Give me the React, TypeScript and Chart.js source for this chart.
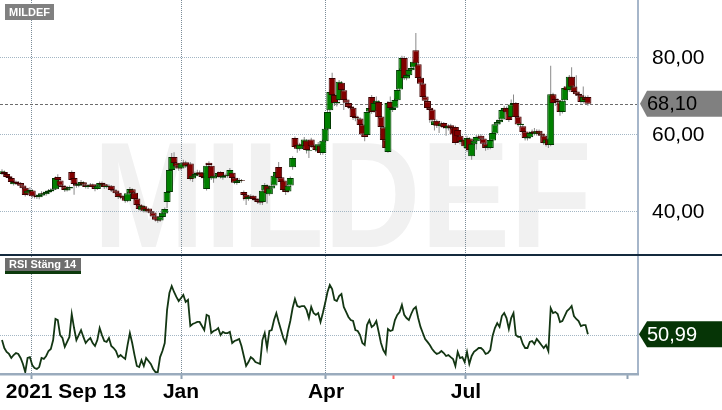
import { useEffect, useRef } from 'react';
import { Chart, registerables } from 'chart.js';

Chart.register(...registerables);

const FONT = '"Liberation Sans", Arial, sans-serif';

const SYMBOL = 'MILDEF';
const RSI_TITLE = 'RSI Stäng 14';

const OPEN = [
  49.9, 50.4, 49.9, 49.3, 48.8, 47.2, 47.9, 47.6, 47.5, 46.9,
  46.3, 44.8, 45.3, 45.6, 44.2, 44.2, 43.8, 44.3, 44.9, 44.6,
  45.1, 45.4, 45.8, 45.9, 49.1, 48.2, 46.9, 46.6, 45.6, 46.1,
  50.4, 48.8, 47.4, 46.8, 47.2, 47.7, 47.1, 46.5, 46.8, 47.2,
  46.6, 46.0, 46.7, 47.6, 47.2, 46.4, 46.9, 46.8, 45.8, 45.6,
  45.0, 43.8, 44.2, 43.7, 42.8, 44.9, 45.9, 45.0, 43.5, 41.9,
  40.6, 41.5, 40.2, 40.9, 40.2, 39.9, 38.9, 38.1, 37.8, 38.7,
  39.6, 42.6, 45.2, 50.9, 54.3, 52.8, 52.0, 51.3, 52.5, 52.9,
  51.8, 52.6, 48.7, 49.3, 49.9, 50.3, 50.2, 49.2, 46.0, 52.8,
  52.0, 48.7, 49.5, 49.3, 50.4, 48.9, 49.4, 49.7, 49.3, 50.2,
  48.9, 47.5, 48.0, 48.3, 45.2, 44.5, 43.3, 43.8, 44.2, 43.5,
  43.2, 42.7, 42.6, 45.6, 46.9, 44.6, 46.1, 46.9, 49.3, 51.7,
  49.0, 48.2, 45.8, 45.3, 46.9, 51.6, 59.2, 57.4, 56.3, 57.6,
  57.1, 58.6, 55.9, 58.8, 57.3, 57.2, 55.9, 57.3, 55.3, 58.4,
  61.5, 66.4, 74.8, 70.4, 68.2, 69.1, 73.6, 71.6, 69.2, 68.3,
  67.4, 67.1, 64.8, 64.3, 64.3, 62.7, 60.2, 60.0, 66.1, 69.9,
  66.2, 68.2, 68.6, 64.8, 62.0, 58.8, 55.6, 68.6, 66.5, 67.1,
  69.0, 71.8, 76.8, 80.0, 74.7, 75.5, 76.8, 77.5, 82.0, 78.4,
  74.9, 73.4, 70.0, 68.8, 67.1, 66.6, 62.6, 63.7, 62.6, 62.3,
  63.1, 62.2, 61.7, 62.5, 61.9, 62.1, 61.3, 59.8, 58.1, 58.8,
  56.6, 59.1, 54.5, 57.6, 58.4, 59.6, 59.8, 59.1, 57.8, 56.7,
  56.6, 58.6, 60.4, 62.7, 63.3, 64.0, 66.4, 67.1, 67.0, 64.7,
  67.8, 68.3, 64.8, 62.6, 62.3, 60.9, 59.1, 59.4, 60.4, 61.0,
  60.2, 61.1, 60.4, 59.9, 57.8, 58.9, 57.4, 70.6, 69.4, 69.0,
  68.5, 66.0, 69.0, 72.6, 71.6, 75.1, 72.6, 71.3, 70.7, 70.3,
  68.6, 69.8, 69.9,
];

const HIGH = [
  51.1, 50.8, 50.2, 49.6, 49.0, 48.3, 48.2, 48.0, 47.8, 47.2,
  46.5, 46.0, 46.4, 45.9, 44.8, 44.6, 44.8, 45.4, 45.3, 45.6,
  46.0, 46.2, 46.6, 49.2, 49.8, 48.5, 47.3, 46.9, 46.6, 46.9,
  50.8, 49.0, 47.8, 47.7, 48.3, 48.0, 47.4, 47.2, 47.5, 47.4,
  46.9, 47.2, 47.9, 47.9, 47.5, 47.3, 47.2, 47.0, 46.1, 45.9,
  45.2, 44.6, 44.5, 44.0, 45.3, 46.5, 46.2, 45.2, 43.7, 42.1,
  42.0, 41.8, 41.2, 41.1, 40.5, 40.1, 39.1, 38.4, 39.1, 40.1,
  41.2, 45.6, 51.3, 55.3, 55.5, 53.6, 52.6, 53.0, 53.6, 53.3,
  52.7, 53.0, 50.3, 50.5, 51.0, 50.8, 50.4, 49.6, 52.6, 53.2,
  52.3, 50.0, 50.0, 50.5, 50.6, 49.9, 50.0, 50.1, 51.4, 50.5,
  49.3, 48.5, 48.8, 48.6, 45.6, 44.8, 44.3, 44.6, 44.4, 43.9,
  43.5, 43.0, 46.0, 47.5, 47.2, 46.6, 47.9, 49.8, 51.5, 53.0,
  49.4, 48.5, 46.0, 47.2, 49.2, 54.5, 59.6, 58.0, 58.0, 58.5,
  59.5, 58.9, 56.8, 59.3, 57.8, 57.6, 58.2, 57.6, 59.0, 62.2,
  66.5, 71.8, 76.2, 70.8, 69.3, 74.3, 74.0, 72.0, 69.6, 68.7,
  67.9, 67.4, 65.6, 65.0, 64.6, 63.0, 60.8, 66.5, 67.6, 70.4,
  69.9, 70.0, 69.0, 65.2, 62.3, 59.1, 68.8, 70.0, 67.6, 69.6,
  72.2, 77.4, 80.6, 80.5, 76.2, 77.4, 78.2, 79.6, 86.5, 79.0,
  75.3, 73.8, 70.4, 69.2, 67.5, 67.0, 64.0, 64.0, 63.0, 63.5,
  63.4, 62.6, 62.8, 62.9, 62.2, 62.4, 61.6, 60.1, 59.3, 59.1,
  59.8, 59.5, 58.1, 59.0, 60.0, 60.2, 60.2, 59.4, 58.1, 57.8,
  60.5, 61.0, 63.4, 64.0, 64.7, 67.0, 67.6, 67.4, 67.3, 69.2,
  70.5, 68.6, 65.1, 63.4, 62.6, 61.2, 60.0, 61.0, 61.4, 61.8,
  61.5, 61.4, 60.8, 60.2, 59.3, 59.2, 78.0, 71.0, 69.9, 69.5,
  68.8, 69.4, 72.7, 73.1, 75.6, 77.6, 73.0, 75.5, 71.1, 70.6,
  72.6, 70.2, 70.3,
];

const LOW = [
  49.6, 49.5, 48.8, 48.2, 47.3, 46.9, 47.0, 46.8, 46.4, 45.8,
  44.0, 44.3, 44.9, 43.6, 43.5, 43.4, 43.3, 44.0, 44.2, 44.2,
  44.7, 45.0, 45.3, 45.7, 48.0, 46.4, 46.0, 45.2, 45.3, 45.8,
  48.0, 44.5, 46.3, 46.4, 46.9, 46.7, 46.1, 46.0, 46.5, 46.0,
  45.4, 45.7, 46.4, 46.6, 46.0, 46.1, 46.2, 45.2, 45.0, 44.5,
  43.4, 43.3, 43.1, 42.4, 42.5, 44.6, 44.5, 43.0, 41.4, 40.4,
  40.2, 39.9, 39.9, 39.7, 39.3, 38.4, 37.5, 37.2, 37.4, 38.4,
  39.3, 41.0, 45.0, 50.6, 52.3, 51.3, 50.7, 50.9, 52.1, 51.4,
  51.0, 48.2, 47.8, 48.9, 49.5, 49.2, 48.7, 47.5, 45.6, 51.5,
  48.3, 47.6, 48.8, 48.9, 48.7, 48.4, 48.9, 48.9, 49.0, 48.4,
  47.2, 47.1, 47.7, 47.6, 43.0, 41.8, 42.9, 43.4, 42.9, 42.6,
  42.1, 41.9, 41.8, 45.2, 42.2, 44.2, 45.8, 46.6, 48.9, 48.4,
  47.3, 45.2, 44.4, 45.0, 46.5, 51.0, 56.4, 55.4, 55.9, 56.8,
  56.8, 55.2, 54.0, 56.6, 56.4, 55.6, 55.5, 54.8, 54.9, 58.0,
  61.2, 65.9, 70.0, 67.5, 67.4, 68.7, 71.2, 66.5, 67.9, 66.8,
  66.4, 63.9, 63.6, 63.8, 62.1, 59.6, 58.4, 59.8, 65.7, 65.5,
  65.8, 67.7, 64.2, 61.6, 58.2, 55.8, 55.4, 66.5, 66.0, 66.8,
  68.7, 71.5, 76.5, 74.3, 74.2, 75.0, 76.4, 77.0, 77.8, 74.2,
  72.8, 69.3, 68.4, 66.5, 63.2, 63.3, 61.2, 61.8, 60.5, 61.9,
  61.6, 59.8, 61.2, 61.3, 59.6, 57.4, 59.2, 57.6, 57.7, 56.4,
  55.6, 55.0, 53.6, 57.2, 56.2, 59.1, 58.5, 57.2, 55.9, 56.2,
  56.3, 58.2, 60.1, 62.3, 62.8, 63.7, 65.9, 65.4, 63.4, 64.3,
  67.3, 64.2, 62.2, 62.0, 60.3, 58.6, 58.6, 59.0, 60.0, 59.9,
  59.8, 59.8, 59.3, 57.4, 57.0, 56.6, 57.1, 67.8, 67.5, 68.1,
  65.0, 65.6, 68.6, 71.2, 71.2, 72.0, 70.7, 70.1, 69.7, 68.1,
  68.2, 68.6, 67.6,
];

const CLOSE = [
  50.6, 49.9, 49.1, 48.8, 47.8, 47.8, 47.5, 47.3, 46.8, 46.2,
  44.4, 45.5, 45.7, 44.1, 44.1, 43.9, 44.4, 44.9, 44.7, 45.2,
  45.5, 45.7, 46.0, 48.8, 48.3, 46.8, 46.5, 45.7, 46.2, 46.5,
  48.3, 47.3, 46.8, 47.3, 47.8, 47.1, 46.5, 46.8, 47.1, 46.5,
  46.0, 46.8, 47.5, 47.1, 46.5, 46.8, 46.8, 45.7, 45.5, 44.9,
  43.9, 44.1, 43.6, 42.9, 44.9, 46.0, 44.9, 43.4, 41.8, 40.8,
  41.6, 40.3, 40.8, 40.1, 39.8, 38.8, 38.0, 37.7, 38.8, 39.8,
  40.8, 45.2, 50.9, 54.3, 52.7, 51.8, 51.3, 52.6, 52.8, 51.8,
  52.3, 48.6, 49.4, 49.9, 50.2, 49.7, 49.1, 48.8, 52.0, 52.2,
  48.8, 49.4, 49.4, 50.1, 49.1, 49.4, 49.6, 49.4, 50.9, 48.8,
  47.6, 48.1, 48.3, 48.1, 44.4, 43.4, 43.9, 44.1, 43.4, 43.1,
  42.6, 42.4, 45.5, 47.0, 44.9, 46.2, 46.8, 49.4, 50.4, 48.8,
  47.8, 45.7, 45.2, 46.8, 48.8, 54.0, 56.9, 56.4, 57.5, 57.2,
  58.8, 56.1, 56.1, 57.1, 56.9, 56.1, 57.6, 55.3, 58.5, 61.6,
  66.0, 71.2, 70.4, 68.3, 68.6, 73.8, 71.7, 69.1, 68.4, 67.3,
  67.0, 64.7, 64.4, 64.4, 62.6, 60.1, 59.5, 66.0, 67.0, 66.0,
  68.3, 68.9, 64.7, 62.1, 58.7, 56.6, 68.3, 67.0, 67.0, 69.1,
  71.7, 76.9, 80.0, 74.8, 75.6, 76.9, 77.4, 79.0, 78.6, 74.8,
  73.3, 69.9, 68.9, 67.0, 66.5, 63.8, 63.6, 62.4, 62.4, 63.0,
  62.1, 61.8, 62.4, 61.8, 60.1, 57.9, 59.7, 58.2, 58.7, 57.1,
  59.2, 56.1, 57.7, 58.5, 59.5, 59.7, 59.0, 57.7, 56.6, 57.2,
  58.7, 60.5, 62.8, 63.4, 63.9, 66.5, 67.0, 65.9, 63.9, 67.9,
  68.3, 64.7, 62.7, 62.9, 60.8, 59.2, 59.5, 60.5, 60.8, 60.3,
  61.0, 60.3, 59.8, 57.9, 58.8, 57.4, 70.6, 68.3, 69.1, 68.6,
  66.0, 68.9, 72.2, 71.7, 75.1, 72.5, 71.2, 70.6, 70.2, 68.6,
  69.9, 69.1, 68.1,
];

const RSI = [
  47.8, 43.5, 41.4, 40.3, 38.1, 39.7, 40.8, 40.3, 38.1, 34.9,
  30.5, 38.1, 38.6, 34.3, 32.7, 32.2, 33.2, 38.1, 37.6, 39.2,
  41.9, 43.0, 47.8, 59.2, 58.6, 50.5, 48.9, 44.1, 46.8, 49.5,
  61.9, 54.3, 47.8, 50.5, 53.2, 49.5, 46.2, 47.8, 48.9, 46.2,
  44.6, 47.8, 54.3, 50.5, 47.3, 46.8, 48.9, 44.6, 43.5, 41.9,
  38.6, 39.7, 38.6, 37.6, 45.1, 51.6, 46.2, 39.7, 33.8, 33.2,
  37.0, 33.8, 38.1, 36.5, 34.9, 32.2, 30.5, 30.5, 38.6, 41.9,
  46.2, 64.1, 73.2, 77.0, 73.8, 71.1, 68.9, 70.5, 72.2, 68.4,
  69.5, 55.4, 56.5, 57.0, 57.6, 57.6, 55.4, 53.2, 61.4, 60.8,
  51.6, 52.7, 53.2, 54.3, 50.5, 52.2, 51.6, 51.6, 52.2, 46.2,
  47.3, 47.8, 48.4, 44.6, 39.2, 33.8, 35.9, 38.6, 37.6, 35.9,
  35.4, 34.9, 47.8, 51.6, 43.5, 52.7, 53.2, 58.6, 62.4, 57.6,
  53.2, 48.9, 46.2, 52.7, 58.1, 65.1, 70.0, 66.2, 65.7, 66.2,
  66.2, 64.1, 59.7, 65.7, 62.4, 61.4, 62.4, 57.6, 62.4, 67.8,
  73.8, 77.6, 75.4, 69.5, 68.9, 71.6, 72.7, 65.7, 63.0, 60.3,
  58.6, 58.1, 53.2, 52.7, 50.5, 46.2, 45.1, 55.9, 58.6, 54.9,
  55.9, 58.1, 52.2, 46.2, 42.4, 40.3, 53.8, 52.7, 53.2, 58.6,
  61.4, 63.0, 66.8, 61.4, 59.7, 58.6, 61.9, 64.6, 65.7, 59.7,
  54.9, 51.6, 48.4, 46.8, 45.1, 43.0, 41.4, 40.3, 40.8, 41.9,
  40.8, 39.2, 39.7, 38.6, 37.6, 33.8, 41.4, 38.1, 38.6, 35.9,
  41.4, 34.9, 39.2, 41.4, 42.4, 43.5, 43.5, 42.4, 40.3, 40.8,
  42.4, 50.0, 54.3, 57.0, 54.9, 60.8, 62.4, 59.7, 53.8, 59.7,
  62.4, 50.5, 49.5, 49.5, 45.7, 43.5, 43.5, 46.8, 47.3, 45.7,
  48.4, 46.8, 45.1, 43.5, 45.1, 41.9, 65.1, 62.4, 63.0, 61.9,
  57.6, 58.1, 60.8, 63.5, 64.6, 66.2, 60.8, 59.2, 58.1, 55.4,
  55.9, 55.9, 50.99,
];

// x-axis (index positions of gridlines / ticks / labels)
const X_MIN = -0.86;
const X_MAX = 273.55;
const GRID_TICKS = [12.9, 77.0, 139.35, 199.57];
const AXIS_TICKS = [12.9, 27.5, 77.0, 139.35, 168.2, 199.57, 269.2];
const AXIS_LABELS = ['', '2021 Sep 13', 'Jan', 'Apr', '', 'Jul', ''];
const AXIS_GRID = [true, false, true, true, false, true, false];
const AXIS_TICK_COLORS = ['#8fa1b3', 'rgba(0,0,0,0)', '#8fa1b3', '#8fa1b3', '#ff5a5a', '#8fa1b3', '#8fa1b3'];

const PRICE_TICKS = [40, 60, 80];
const PRICE_MIN = 28.57;
const PRICE_MAX = 95.065;
const RSI_TICKS = [50];
const RSI_MIN = 30;
const RSI_MAX = 93.24;

const fmt = (v: number) => v.toFixed(2).replace('.', ',');

const GRID_V = '#7b8c98';
const GRID_H = '#a3b6c4';
const FRAME = '#a6b6ca';

export default function App() {
  const mainRef = useRef<HTMLCanvasElement>(null);
  const rsiRef = useRef<HTMLCanvasElement>(null);

  useEffect(() => {
    document.body.style.margin = '0';
    const last = CLOSE.length - 1;

    const mainPlugin = {
      id: 'mainDecor',
      beforeDraw(chart: any) {
        const { ctx } = chart;
        ctx.save();
        ctx.fillStyle = '#ffffff';
        ctx.fillRect(0, 0, chart.width, chart.height);
        ctx.font = `bold 150px ${FONT}`;
        const w = ctx.measureText(SYMBOL).width;
        ctx.translate(93, 247);
        ctx.scale(499 / w, 1);
        ctx.fillStyle = '#f1f1f1';
        ctx.textBaseline = 'alphabetic';
        ctx.fillText(SYMBOL, 0, 0);
        ctx.restore();
      },
      beforeDatasetsDraw(chart: any) {
        const { ctx, chartArea } = chart;
        const y = Math.round(chart.scales.y.getPixelForValue(CLOSE[last])) + 0.5;
        ctx.save();
        ctx.strokeStyle = '#6c6c6c';
        ctx.lineWidth = 1;
        ctx.setLineDash([3, 2]);
        ctx.beginPath();
        ctx.moveTo(chartArea.left, y);
        ctx.lineTo(chartArea.right, y);
        ctx.stroke();
        ctx.restore();
      },
      afterDraw(chart: any) {
        const { ctx, chartArea } = chart;
        const r = chartArea.right;
        ctx.save();
        // frame
        ctx.fillStyle = FRAME;
        ctx.fillRect(r - 1, 0, 2, chart.height);
        ctx.fillStyle = '#142a3e';
        ctx.fillRect(0, chart.height - 2, chart.width, 2);
        // price tag
        const y = chart.scales.y.getPixelForValue(CLOSE[last]);
        ctx.fillStyle = '#808080';
        ctx.beginPath();
        ctx.moveTo(r + 2, y);
        ctx.lineTo(r + 9, y - 13);
        ctx.lineTo(chart.width, y - 13);
        ctx.lineTo(chart.width, y + 13);
        ctx.lineTo(r + 9, y + 13);
        ctx.closePath();
        ctx.fill();
        ctx.fillStyle = '#000';
        ctx.font = `20px ${FONT}`;
        ctx.textBaseline = 'middle';
        ctx.textAlign = 'left';
        ctx.fillText(fmt(CLOSE[last]), r + 9, y + 1);
        // symbol label
        ctx.fillStyle = '#808080';
        ctx.fillRect(5, 4, 49, 16);
        ctx.fillStyle = '#fff';
        ctx.font = `bold 11px ${FONT}`;
        ctx.fillText(SYMBOL, 9, 12.5);
        ctx.restore();
      },
    };

    const rsiPlugin = {
      id: 'rsiDecor',
      beforeDraw(chart: any) {
        const { ctx } = chart;
        ctx.save();
        ctx.fillStyle = '#ffffff';
        ctx.fillRect(0, 0, chart.width, chart.height);
        ctx.restore();
      },
      afterDraw(chart: any) {
        const { ctx, chartArea } = chart;
        const r = chartArea.right;
        const b = chartArea.bottom;
        ctx.save();
        ctx.fillStyle = FRAME;
        ctx.fillRect(r - 1, 0, 2, b + 2);
        ctx.fillStyle = '#9aabbd';
        ctx.fillRect(0, b, r + 1, 2.5);
        // RSI tag
        const lastRsi = RSI[RSI.length - 1];
        const y = chart.scales.y.getPixelForValue(lastRsi);
        ctx.fillStyle = '#063506';
        ctx.beginPath();
        ctx.moveTo(r + 1, y);
        ctx.lineTo(r + 9, y - 13);
        ctx.lineTo(chart.width, y - 13);
        ctx.lineTo(chart.width, y + 13);
        ctx.lineTo(r + 9, y + 13);
        ctx.closePath();
        ctx.fill();
        ctx.fillStyle = '#fff';
        ctx.font = `20px ${FONT}`;
        ctx.textBaseline = 'middle';
        ctx.textAlign = 'left';
        ctx.fillText(fmt(lastRsi), r + 9, y + 1);
        // title box
        ctx.fillStyle = '#6e6e6e';
        ctx.fillRect(5, 2, 76, 13);
        ctx.fillStyle = '#0d3a0d';
        ctx.fillRect(5, 15, 76, 3);
        ctx.fillStyle = '#fff';
        ctx.font = `bold 11px ${FONT}`;
        ctx.fillText(RSI_TITLE, 9, 9);
        ctx.restore();
      },
    };

    const baseX = {
      type: 'linear' as const,
      min: X_MIN,
      max: X_MAX,
      offset: false,
    };

    const main = new Chart(mainRef.current as HTMLCanvasElement, {
      type: 'bar',
      data: {
        datasets: [
          {
            type: 'bar',
            data: CLOSE.map((c, i) => ({ x: i, y: [Math.min(OPEN[i], c), Math.max(OPEN[i], c)] })) as any,
            backgroundColor: CLOSE.map((c, i) => (c >= OPEN[i] ? '#008000' : '#800000')),
            borderColor: CLOSE.map((c, i) => (c >= OPEN[i] ? '#003a00' : '#3d0000')),
            borderWidth: 1,
            borderSkipped: false,
            barThickness: 7,
            grouped: false,
            inflateAmount: 0,
            order: 0,
          } as any,
          {
            type: 'bar',
            data: HIGH.map((h, i) => ({ x: i, y: [LOW[i], h] })) as any,
            backgroundColor: '#8a8a8a',
            borderWidth: 0,
            barThickness: 1,
            grouped: false,
            inflateAmount: 0,
            order: 1,
          } as any,
        ],
      },
      options: {
        animation: false,
        responsive: false,
        maintainAspectRatio: false,
        devicePixelRatio: 1,
        events: [],
        layout: { padding: 0 },
        plugins: { legend: { display: false }, tooltip: { enabled: false } },
        scales: {
          x: {
            ...baseX,
            afterBuildTicks: (s: any) => { s.ticks = GRID_TICKS.map((v) => ({ value: v })); },
            afterFit: (s: any) => { s.height = 0; s.paddingLeft = 0; s.paddingRight = 0; },
            grid: { offset: false, color: GRID_V, lineWidth: 1, drawTicks: false },
            border: { display: false, dash: [1, 1] },
            ticks: { display: false },
          },
          y: {
            type: 'linear',
            position: 'right',
            min: PRICE_MIN,
            max: PRICE_MAX,
            afterBuildTicks: (s: any) => { s.ticks = PRICE_TICKS.map((v) => ({ value: v })); },
            afterFit: (s: any) => { s.width = 84; s.paddingTop = 0; s.paddingBottom = 0; },
            grid: { color: GRID_H, lineWidth: 1, drawTicks: false },
            border: { display: false, dash: [1, 1] },
            ticks: {
              padding: 14,
              color: '#000',
              font: { size: 21, family: FONT },
              callback: (v: any) => fmt(Number(v)),
            },
          },
        } as any,
      },
      plugins: [mainPlugin],
    });

    const rsi = new Chart(rsiRef.current as HTMLCanvasElement, {
      type: 'line',
      data: {
        datasets: [
          {
            data: RSI.map((v, i) => ({ x: i, y: v })),
            borderColor: '#133613',
            borderWidth: 1.8,
            pointRadius: 0,
            tension: 0,
            fill: false,
          },
        ],
      },
      options: {
        animation: false,
        responsive: false,
        maintainAspectRatio: false,
        devicePixelRatio: 1,
        events: [],
        layout: { padding: 0 },
        plugins: { legend: { display: false }, tooltip: { enabled: false } },
        scales: {
          x: {
            ...baseX,
            afterBuildTicks: (s: any) => { s.ticks = AXIS_TICKS.map((v) => ({ value: v })); },
            afterFit: (s: any) => { s.height = 37; s.paddingLeft = 0; s.paddingRight = 0; },
            grid: {
              offset: false,
              color: (c: any) => (AXIS_GRID[c.index] ? GRID_V : 'rgba(0,0,0,0)'),
              lineWidth: 1,
              drawTicks: true,
              tickLength: 6,
              tickWidth: 2,
              tickColor: (c: any) => AXIS_TICK_COLORS[c.index],
            },
            border: { display: false, dash: [1, 1] },
            ticks: {
              autoSkip: false,
              maxRotation: 0,
              minRotation: 0,
              padding: 1,
              color: '#000',
              font: { size: 21, weight: 'bold', family: FONT },
              callback: (_v: any, i: number) => AXIS_LABELS[i],
            },
          },
          y: {
            type: 'linear',
            position: 'right',
            min: RSI_MIN,
            max: RSI_MAX,
            afterBuildTicks: (s: any) => { s.ticks = RSI_TICKS.map((v) => ({ value: v })); },
            afterFit: (s: any) => { s.width = 84; s.paddingTop = 0; s.paddingBottom = 0; },
            grid: { color: GRID_H, lineWidth: 1, drawTicks: false },
            border: { display: false, dash: [1, 1] },
            ticks: { display: false },
          },
        } as any,
      },
      plugins: [rsiPlugin],
    });

    return () => {
      main.destroy();
      rsi.destroy();
    };
  }, []);

  return (
    <div style={{ position: 'fixed', left: 0, top: 0, width: 722, height: 410, background: '#fff' }}>
      <canvas
        ref={mainRef}
        width={722}
        height={256}
        style={{ position: 'absolute', left: 0, top: 0, width: 722, height: 256 }}
      />
      <canvas
        ref={rsiRef}
        width={722}
        height={154}
        style={{ position: 'absolute', left: 0, top: 256, width: 722, height: 154 }}
      />
    </div>
  );
}
